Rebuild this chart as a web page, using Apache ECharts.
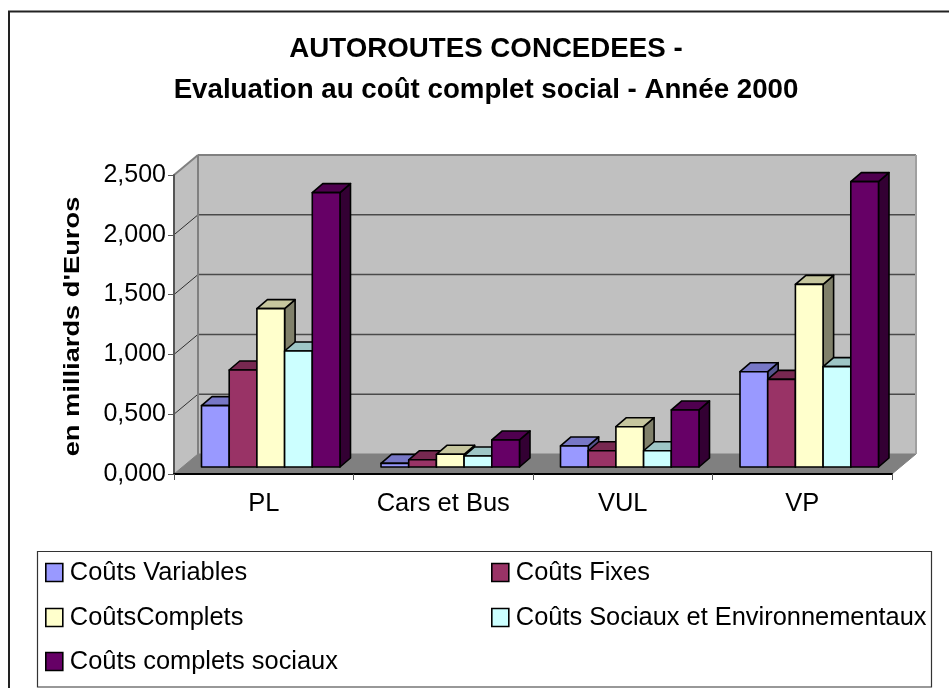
<!DOCTYPE html>
<html><head><meta charset="utf-8">
<style>html,body{margin:0;padding:0;background:#fff}#c{width:949px;height:688px}</style>
<script src="https://cdn.jsdelivr.net/npm/echarts@6/dist/echarts.min.js"></script>
</head><body><div id="c"></div>
<script>
const categories = ['PL','Cars et Bus','VUL','VP'];
const coutsVariables = [0.513,0.030,0.176,0.797];
const coutsFixes = [0.811,0.060,0.136,0.733];
const coutsComplets = [1.324,0.106,0.337,1.527];
const coutsSociaux = [0.970,0.092,0.136,0.839];
const coutsCompletsSociaux = [2.294,0.226,0.477,2.386];
const yTicks = [0,0.5,1,1.5,2,2.5];
const seriesNames = ['Coûts Variables','Coûts Fixes','CoûtsComplets','Coûts Sociaux et Environnementaux','Coûts complets sociaux'];
const seriesValues = [coutsVariables,coutsFixes,coutsComplets,coutsSociaux,coutsCompletsSociaux];
const colors = ['#9999ff','#993366','#ffffcc','#ccffff','#660066'];
const topColors = ['#7777c6','#772850','#c6c69e','#9ec6c6','#4f004f'];
const sideColors = ['#55558e','#551c39','#80806a','#6f8e8e','#330033'];
const legendPos = [[45,560],[491,560],[45,605],[491,605],[45,649]];

const FONT = '"Liberation Sans", Arial, sans-serif';
const WALL_DX = 24, WALL_DY = -20;     // depth of the floor
const BAR_DX = 10.5, BAR_DY = -9;      // depth of a bar
const BASE_DX = 7, BASE_DY = -7;       // bar plane offset from front plane
const BAR_SHARE = 0.1543;

function renderWalls(params, api) {
  const band = api.size([1,0])[0];
  const L = api.coord([0,0])[0] - band/2, R = api.coord([categories.length-1,0])[0] + band/2;
  const y0 = api.coord([0,0])[1], yT = api.coord([0,yTicks[yTicks.length-1]])[1];
  const kids = [];
  const poly = (pts,fill) => kids.push({type:'polygon',shape:{points:pts},style:{fill:fill,stroke:fill,lineWidth:1},silent:true});
  const line = (a,b,c,w) => kids.push({type:'line',shape:{x1:a[0],y1:a[1],x2:b[0],y2:b[1]},style:{stroke:c,lineWidth:w},silent:true});
  poly([[L,yT],[L+WALL_DX,yT+WALL_DY],[R+WALL_DX,yT+WALL_DY],[R+WALL_DX,y0+WALL_DY],[L+WALL_DX,y0+WALL_DY],[L,y0]],'#c0c0c0');
  poly([[L,y0],[L+WALL_DX,y0+WALL_DY],[R+WALL_DX,y0+WALL_DY],[R,y0]],'#808080');
  yTicks.forEach(t => {
    const y = api.coord([0,t])[1];
    if (t > 0 && t < yTicks[yTicks.length-1]) line([L+WALL_DX,y+WALL_DY],[R+WALL_DX,y+WALL_DY],'#4a4a4a',1.5);
    if (t > 0 && t < yTicks[yTicks.length-1]) line([L,y],[L+WALL_DX,y+WALL_DY],'#303030',1);
  });
  line([L,yT],[L+WALL_DX,yT+WALL_DY],'#808080',2);
  line([L+WALL_DX,yT+WALL_DY],[R+WALL_DX,yT+WALL_DY],'#808080',2);
  line([L+WALL_DX,yT+WALL_DY],[L+WALL_DX,y0+WALL_DY],'#808080',2);
  line([R+WALL_DX,yT+WALL_DY],[R+WALL_DX,y0+WALL_DY],'#a0a0a0',2);
  return {type:'group',children:kids};
}

function makeRender(si) {
  return function (params, api) {
    const idx = api.value(0), v = api.value(1);
    const band = api.size([1,0])[0];
    const w = band * BAR_SHARE;
    const c = api.coord([idx,0]);
    const x0 = c[0] - w*seriesNames.length/2 + BASE_DX + si*w;
    const x1 = x0 + w;
    const yb = c[1] + BASE_DY;
    const yt = api.coord([idx,v])[1] + BASE_DY;
    const st = f => ({fill:f,stroke:'#000',lineWidth:1.6,lineJoin:'round'});
    return {type:'group',children:[
      {type:'polygon',shape:{points:[[x1,yt],[x1+BAR_DX,yt+BAR_DY],[x1+BAR_DX,yb+BAR_DY],[x1,yb]]},style:st(sideColors[si])},
      {type:'polygon',shape:{points:[[x0,yt],[x0+BAR_DX,yt+BAR_DY],[x1+BAR_DX,yt+BAR_DY],[x1,yt]]},style:st(topColors[si])},
      {type:'rect',shape:{x:x0,y:yt,width:w,height:yb-yt},style:st(colors[si])}
    ]};
  };
}

const chart = echarts.init(document.getElementById('c'),null,{renderer:'canvas'});
chart.setOption({
  animation:false,
  backgroundColor:'#fff',
  textStyle:{fontFamily:FONT},
  title:{
    text:'AUTOROUTES CONCEDEES -\nEvaluation au coût complet social - Année 2000',
    left:481, top:24, textAlign:'center',
    textStyle:{fontFamily:FONT,fontSize:27.7,fontWeight:'bold',color:'#000',lineHeight:41}
  },
  grid:{left:174,right:57,top:175,bottom:214,containLabel:false},
  xAxis:{
    type:'category',data:categories,z:3,
    axisLine:{lineStyle:{color:'#000',width:2}},
    axisTick:{show:true,length:6,lineStyle:{color:'#555',width:1},alignWithLabel:false},
    axisLabel:{fontFamily:FONT,fontSize:25.5,color:'#000',margin:17,interval:0},
    splitLine:{show:false}
  },
  yAxis:{
    type:'value',min:0,max:2.5,interval:0.5,z:3,
    axisLine:{show:true,lineStyle:{color:'#555',width:2}},
    axisTick:{show:true,length:6,lineStyle:{color:'#555',width:1}},
    axisLabel:{fontFamily:FONT,fontSize:25,color:'#000',margin:8,formatter:v=>v.toFixed(3).replace('.',',')},
    splitLine:{show:false}
  },
  legend:seriesNames.map((n,i)=>({
    data:[n],left:legendPos[i][0],top:legendPos[i][1],padding:0,selectedMode:false,
    itemWidth:17,itemHeight:18,itemGap:8,icon:'rect',
    itemStyle:{color:colors[i],borderColor:'#000',borderWidth:1.6},
    textStyle:{fontFamily:FONT,fontSize:25.4,color:'#000',padding:[0,0,0,2]}
  })),
  graphic:[
    {type:'polyline',shape:{points:[[9,688],[9,11.5],[949,11.5]]},style:{fill:'none',stroke:'#222',lineWidth:2},z:10,silent:true},
    {type:'rect',shape:{x:37.5,y:551.5,width:894,height:135.5},style:{fill:'none',stroke:'#333',lineWidth:1.2},z:10,silent:true},
    {type:'text',x:73,y:326.5,rotation:Math.PI/2,scaleX:1.24,style:{text:"en milliards d'Euros",font:'bold 22px '+FONT,fill:'#000',textAlign:'center',textVerticalAlign:'middle'},z:10,silent:true}
  ],
  series:[
    {type:'custom',name:'walls',z:1,silent:true,data:[[0,0]],encode:{x:0,y:1},renderItem:renderWalls}
  ].concat(seriesNames.map((n,si)=>({
    type:'custom',name:n,z:2,silent:true,
    itemStyle:{color:colors[si]},
    data:seriesValues[si].map((v,i)=>[i,v]),
    encode:{x:0,y:1},
    renderItem:makeRender(si)
  })))
});
</script></body></html>
